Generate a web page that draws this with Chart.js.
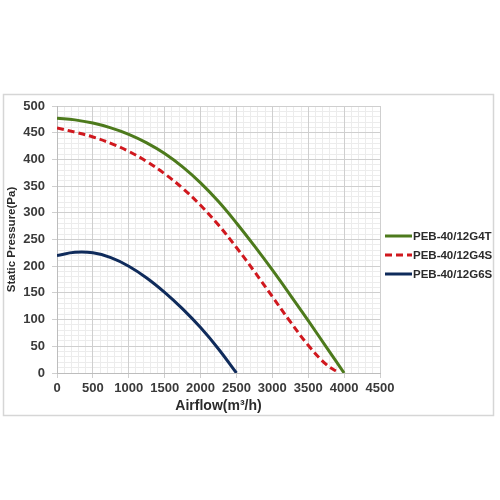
<!DOCTYPE html>
<html>
<head>
<meta charset="utf-8">
<script src="https://cdn.jsdelivr.net/npm/chart.js@4"></script>
<style>
  html, body { margin: 0; padding: 0; background: #ffffff; }
  #wrap { width: 500px; height: 500px; position: relative; }
</style>
</head>
<body>
<div id="wrap"><canvas id="c" width="500" height="500"></canvas></div>
<script>
// ---- data ----
const seriesNames = ["PEB-40/12G4T", "PEB-40/12G4S", "PEB-40/12G6S"];

const airflowG4T  = [0, 250, 500, 750, 1000, 1250, 1500, 1750, 2000, 2250, 2500, 2750, 3000, 3250, 3500, 3750, 4000];
const pressureG4T = [477, 474, 468, 459, 447, 431, 411, 386, 356, 321, 281, 238, 193, 146, 98, 49, 0];

const airflowG4S  = [0, 250, 500, 750, 1000, 1250, 1500, 1750, 2000, 2250, 2500, 2750, 3000, 3250, 3500, 3750, 3930];
const pressureG4S = [459, 451, 442, 430, 415, 396, 373, 346, 314, 277, 235, 190, 143, 96, 52, 16, 0];

const airflowG6S  = [0, 250, 500, 750, 1000, 1250, 1500, 1750, 2000, 2250, 2500];
const pressureG6S = [220, 226, 225, 216, 200, 178, 151, 120, 85, 45, 0];

const xTicks = [0, 500, 1000, 1500, 2000, 2500, 3000, 3500, 4000, 4500];
const yTicks = [0, 50, 100, 150, 200, 250, 300, 350, 400, 450, 500];

const xTitle = "Airflow(m³/h)";
const yTitle = "Static Pressure(Pa)";

function pairs(xs, ys) { return xs.map((x, i) => ({ x: x, y: ys[i] })); }

const MAJOR = "#cfcfcf";
const MINOR = "#ececec";
const TICKFONT = { family: "Liberation Sans, Arial, sans-serif", size: 13, weight: "bold" };

const frameAndLegend = {
  id: "frameAndLegend",
  beforeDraw(chart) {
    const ctx = chart.ctx;
    ctx.save();
    ctx.fillStyle = "#ffffff";
    ctx.fillRect(0, 0, chart.width, chart.height);
    ctx.strokeStyle = "#d6d6d6";
    ctx.lineWidth = 1.5;
    ctx.strokeRect(3.5, 94.5, 490, 321);
    ctx.restore();
  },
  afterDraw(chart) {
    const ctx = chart.ctx;
    ctx.save();
    const rowY = [236, 255, 274];
    chart.data.datasets.forEach((ds, i) => {
      const y = rowY[i];
      ctx.strokeStyle = ds.borderColor;
      ctx.lineWidth = 3;
      ctx.setLineDash(ds.borderDash || []);
      ctx.beginPath();
      ctx.moveTo(385, y);
      ctx.lineTo(412, y);
      ctx.stroke();
      ctx.setLineDash([]);
      ctx.fillStyle = "#2b2b2b";
      ctx.font = "bold 11.5px 'Liberation Sans', Arial, sans-serif";
      ctx.textBaseline = "middle";
      ctx.textAlign = "left";
      ctx.fillText(ds.label, 413, y + 0.5);
    });
    ctx.restore();
  }
};

new Chart(document.getElementById("c"), {
  type: "line",
  data: {
    datasets: [
      { label: seriesNames[0], data: pairs(airflowG4T, pressureG4T), borderColor: "#4d7a1c", borderWidth: 3, pointRadius: 0, tension: 0.4, fill: false },
      { label: seriesNames[1], data: pairs(airflowG4S, pressureG4S), borderColor: "#d0181e", borderWidth: 3, borderDash: [7, 4], pointRadius: 0, tension: 0.4, fill: false },
      { label: seriesNames[2], data: pairs(airflowG6S, pressureG6S), borderColor: "#0f2b5b", borderWidth: 3, pointRadius: 0, tension: 0.4, fill: false }
    ]
  },
  options: {
    responsive: false,
    animation: false,
    devicePixelRatio: 1,
    layout: { padding: { left: 0, right: 120, top: 106, bottom: 82 } },
    plugins: { legend: { display: false }, tooltip: { enabled: false } },
    scales: {
      xMinor: {
        type: "linear", position: "top", min: 0, max: 4500,
        ticks: { display: false, stepSize: 100 },
        grid: { color: MINOR, lineWidth: 1, drawTicks: false },
        border: { display: false },
        afterFit(s) { s.height = 0; }
      },
      yMinor: {
        type: "linear", position: "right", min: 0, max: 500,
        ticks: { display: false, stepSize: 10 },
        grid: { color: MINOR, lineWidth: 1, drawTicks: false },
        border: { display: false },
        afterFit(s) { s.width = 0; }
      },
      x: {
        type: "linear", position: "bottom", min: 0, max: 4500,
        afterBuildTicks(s) { s.ticks = xTicks.map(v => ({ value: v })); },
        ticks: { color: "#3a3a3a", font: TICKFONT, padding: 3, maxRotation: 0, autoSkip: false, callback: v => String(v) },
        grid: { color: MAJOR, lineWidth: 1, tickLength: 5 },
        border: { color: "#bdbdbd" },
        title: { display: true, text: xTitle, color: "#2b2b2b", font: { family: "Liberation Sans, Arial, sans-serif", size: 14, weight: "bold" }, padding: { top: 0, bottom: 3 } },
        afterFit(s) { s.height = 45; }
      },
      y: {
        type: "linear", position: "left", min: 0, max: 500,
        afterBuildTicks(s) { s.ticks = yTicks.map(v => ({ value: v })); },
        ticks: { color: "#3a3a3a", font: TICKFONT, padding: 7, autoSkip: false, callback: v => String(v) },
        grid: { color: MAJOR, lineWidth: 1, tickLength: 5 },
        border: { color: "#bdbdbd" },
        title: { display: true, text: yTitle, color: "#2b2b2b", font: { family: "Liberation Sans, Arial, sans-serif", size: 11.5, weight: "bold" }, padding: { top: 5, bottom: 0 } },
        afterFit(s) { s.width = 57; }
      }
    }
  },
  plugins: [frameAndLegend]
});
</script>
</body>
</html>
